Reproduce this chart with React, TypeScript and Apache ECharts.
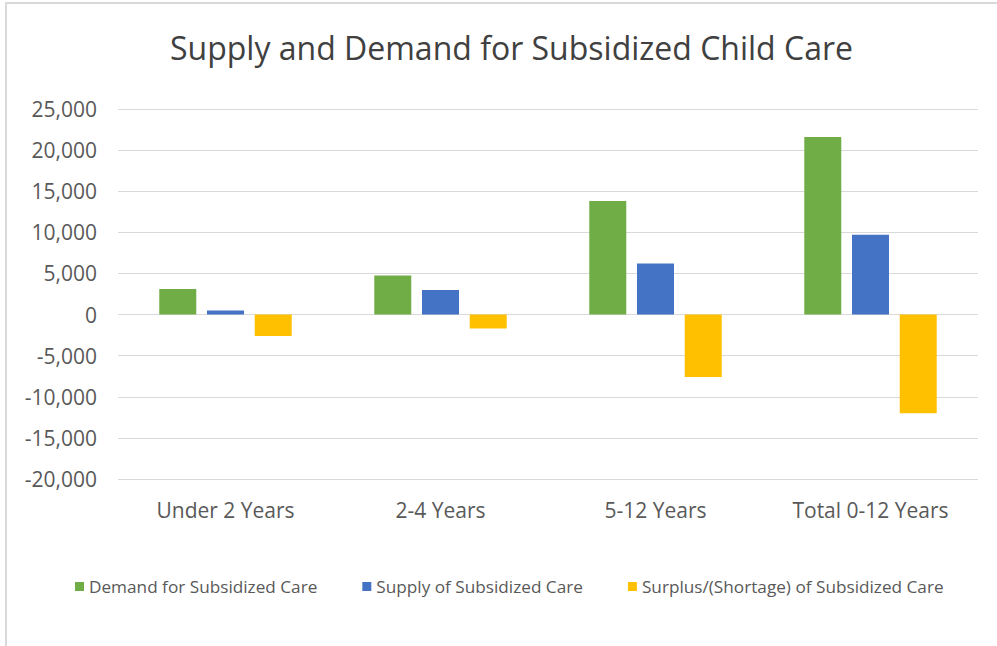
import React, { useEffect, useRef } from "react";
import * as echarts from "echarts";

const categories = ["Under 2 Years", "2-4 Years", "5-12 Years", "Total 0-12 Years"];
const seriesNames = [
  "Demand for Subsidized Care",
  "Supply of Subsidized Care",
  "Surplus/(Shortage) of Subsidized Care",
];
const demand = [3100, 4750, 13800, 21600];
const supply = [500, 3000, 6200, 9700];
const surplus = [-2600, -1700, -7600, -12000];
const colors = ["#70AD47", "#4472C4", "#FFC000"];

const FONT = "'Open Sans', sans-serif";
const TEXT = "#595959";

export default function App() {
  const ref = useRef<HTMLDivElement>(null);
  useEffect(() => {
    if (!ref.current) return;
    const chart = echarts.init(ref.current, null, { renderer: "svg" });
    const data = [demand, supply, surplus];
    chart.setOption({
      animation: false,
      backgroundColor: "#ffffff",
      textStyle: { fontFamily: FONT },
      title: {
        text: "Supply and Demand for Subsidized Child Care",
        left: 165,
        top: 26,
        textStyle: { fontFamily: FONT, fontSize: 32, fontWeight: "normal", color: "#404040" },
      },
      legend: {
        data: seriesNames,
        left: 70,
        top: 573,
        itemWidth: 9,
        itemHeight: 9,
        itemGap: 45,
        icon: "rect",
        textStyle: { fontFamily: FONT, fontSize: 17.2, color: TEXT },
      },
      grid: { left: 118, right: 19, top: 109, bottom: 167, containLabel: false },
      xAxis: {
        type: "category",
        data: categories,
        axisLine: { show: false },
        axisTick: { show: false },
        axisLabel: { fontFamily: FONT, fontSize: 21, color: TEXT, margin: 20 },
      },
      yAxis: {
        type: "value",
        min: -20000,
        max: 25000,
        interval: 5000,
        axisLine: { show: false },
        axisTick: { show: false },
        splitLine: { lineStyle: { color: "#d9d9d9", width: 1 } },
        axisLabel: {
          fontFamily: FONT,
          fontSize: 21,
          color: TEXT,
          margin: 21,
          formatter: (v: number) => v.toLocaleString("en-US"),
        },
      },
      series: seriesNames.map((name, i) => ({
        name,
        type: "bar",
        data: data[i],
        barWidth: 37,
        barGap: "29%",
        itemStyle: { color: colors[i] },
      })),
      graphic: [
        {
          type: "line",
          shape: { x1: 5, y1: 3, x2: 997, y2: 3 },
          style: { stroke: "#d9d9d9", lineWidth: 2 },
        },
        {
          type: "line",
          shape: { x1: 6, y1: 3, x2: 6, y2: 646 },
          style: { stroke: "#d9d9d9", lineWidth: 2 },
        },
      ],
    });
    return () => chart.dispose();
  }, []);
  return (
    <div
      ref={ref}
      style={{ position: "fixed", left: 0, top: 0, width: 997, height: 646 }}
    />
  );
}
